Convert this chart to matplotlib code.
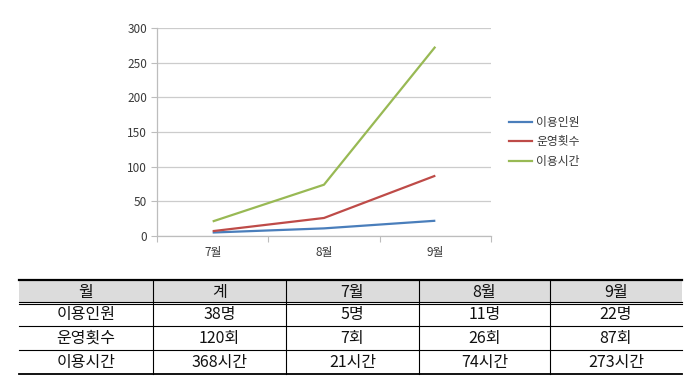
import matplotlib
matplotlib.use("Agg")
import matplotlib.pyplot as plt
from matplotlib.lines import Line2D
from matplotlib.patches import Rectangle

plt.rcParams['font.family'] = ['Noto Sans CJK KR', 'DejaVu Sans']

months = ['7월', '8월', '9월']
series_names = ['이용인원', '운영횟수', '이용시간']
users = [5, 11, 22]
sessions = [7, 26, 87]
hours = [21, 74, 273]
colors = ['#4a7ebb', '#be4b48', '#98b954']

table_header = ['월', '계', '7월', '8월', '9월']
table_rows = [
    ['이용인원', '38명', '5명', '11명', '22명'],
    ['운영횟수', '120회', '7회', '26회', '87회'],
    ['이용시간', '368시간', '21시간', '74시간', '273시간'],
]

W, H = 700, 391
fig = plt.figure(figsize=(W / 100, H / 100), dpi=100)

# ---------- chart ----------
ax = fig.add_axes([157 / W, 1 - 236 / H, 334 / W, 208 / H])
x = list(range(len(months)))
for vals, name, c in zip([users, sessions, hours], series_names, colors):
    ax.plot(x, vals, color=c, lw=1.6, label=name, solid_capstyle='butt')

ax.set_xlim(-0.5, len(months) - 0.5)
ax.set_ylim(0, 300)
ax.set_yticks(range(0, 301, 50))
ax.grid(axis='y', color='#cccccc', lw=0.9)
ax.set_axisbelow(True)
for s in ['top', 'right']:
    ax.spines[s].set_visible(False)
for s in ['left', 'bottom']:
    ax.spines[s].set_color('#bdbdbd')
    ax.spines[s].set_linewidth(0.9)
ax.tick_params(axis='y', length=4, color='#bdbdbd', labelsize=8.5,
               labelcolor='#3a3a3a', pad=3)
# x ticks at category boundaries, labels at centres
ax.set_xticks([i - 0.5 for i in range(len(months) + 1)])
ax.set_xticklabels([])
ax.set_xticks(x, minor=True)
ax.set_xticklabels(months, minor=True)
ax.tick_params(axis='x', which='major', length=4, color='#bdbdbd')
ax.tick_params(axis='x', which='minor', length=0, labelsize=8.5,
               labelcolor='#3a3a3a', pad=7)

handles = [Line2D([0], [0], color=c, lw=1.6) for c in colors]
fig.legend(handles, series_names, loc='center left',
           bbox_to_anchor=(498 / W, 1 - 142 / H), frameon=False,
           fontsize=8.5, handlelength=2.0, handletextpad=0.35,
           labelspacing=0.55, labelcolor='#3a3a3a')

# ---------- table ----------
tax = fig.add_axes([0, 0, 1, 1])
tax.set_xlim(0, W)
tax.set_ylim(H, 0)
tax.axis('off')

col_edges = [19, 153, 286, 419, 550, 682]
header_top, header_bot = 280, 303
row_edges = [303, 326, 350, 374]

tax.add_patch(Rectangle((col_edges[0], header_top), col_edges[-1] - col_edges[0],
                        header_bot - header_top, facecolor='#dcdcdc', edgecolor='none'))
# horizontal lines
tax.plot([col_edges[0], col_edges[-1]], [header_top, header_top], color='black', lw=1.6)
tax.plot([col_edges[0], col_edges[-1]], [header_bot - 1.2, header_bot - 1.2], color='black', lw=0.8)
tax.plot([col_edges[0], col_edges[-1]], [header_bot + 1.2, header_bot + 1.2], color='black', lw=0.8)
for y in row_edges[1:-1]:
    tax.plot([col_edges[0], col_edges[-1]], [y, y], color='black', lw=0.8)
tax.plot([col_edges[0], col_edges[-1]], [row_edges[-1], row_edges[-1]], color='black', lw=1.3)
# vertical lines (inner only)
for xe in col_edges[1:-1]:
    tax.plot([xe, xe], [header_top, row_edges[-1]], color='black', lw=0.8)

centers = [(col_edges[i] + col_edges[i + 1]) / 2 for i in range(len(col_edges) - 1)]
for cx, t in zip(centers, table_header):
    tax.text(cx, (header_top + header_bot) / 2 + 0.5, t, ha='center', va='center',
             fontsize=11.5, color='#111111', fontweight='light')
for r, row in enumerate(table_rows):
    cy = (row_edges[r] + row_edges[r + 1]) / 2 + 0.5
    for cx, t in zip(centers, row):
        tax.text(cx, cy, t, ha='center', va='center', fontsize=11.5,
                 color='#111111', fontweight='light')

fig.savefig('out.png', dpi=100)
